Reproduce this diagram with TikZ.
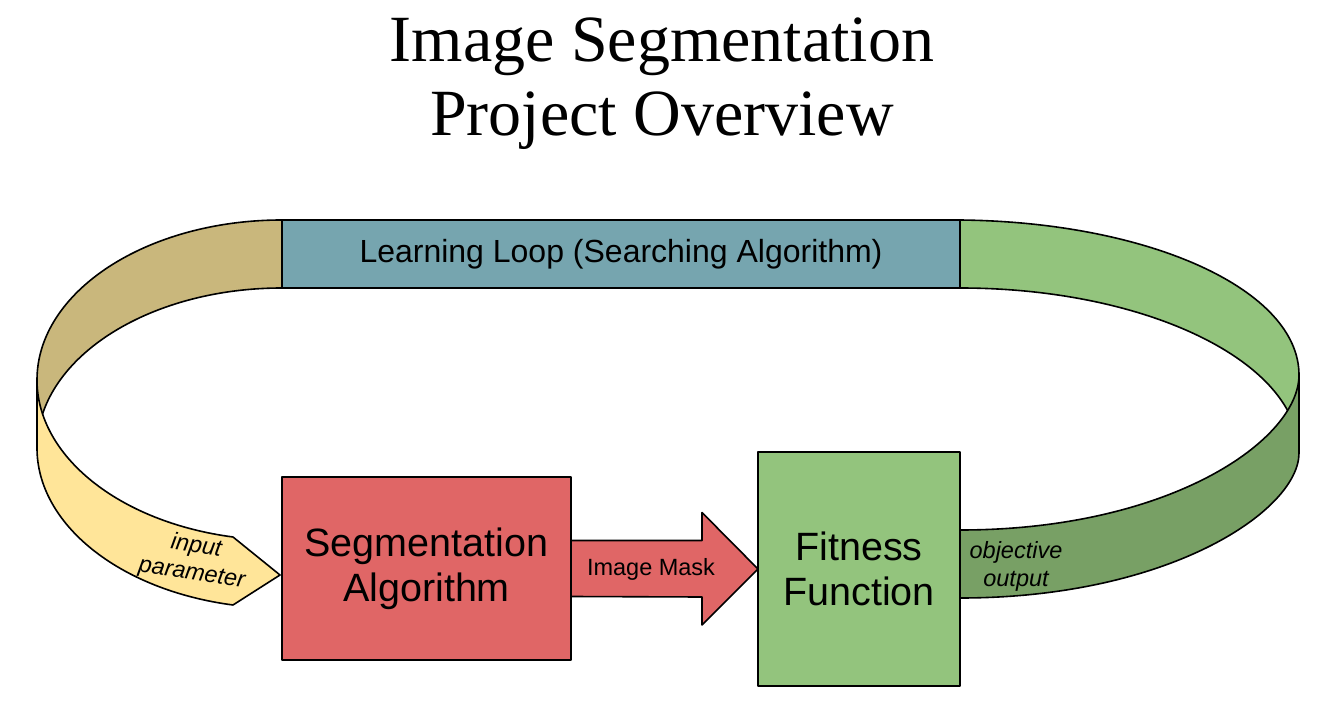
\documentclass[tikz,border=0pt]{standalone}
\usepackage{fontspec}
\setmainfont{Liberation Serif}
\setsansfont{Liberation Sans}
\usetikzlibrary{calc}

\definecolor{loopblue}{HTML}{76A5AF}
\definecolor{backtan}{HTML}{C9B77C}
\definecolor{frontyellow}{HTML}{FFE599}
\definecolor{backgreen}{HTML}{93C47D}
\definecolor{frontgreen}{HTML}{78A065}
\definecolor{segred}{HTML}{E06666}

\begin{document}
\begin{tikzpicture}[x=1pt,y=1pt]
    \useasboundingbox (0,0) rectangle (1324,721);
    \begin{scope}[line width=1.6pt,line join=round,font=\sffamily,
        band/.style={draw=black,fill=#1},
        block/.style={draw=black,fill=#1,inner sep=0pt,outer sep=0pt,align=center,
            font=\sffamily\fontsize{39.5}{45}\selectfont},
        small/.style={align=center,font=\sffamily\itshape\fontsize{23.5}{28}\selectfont}]
    % Title:
    \node [anchor=base,font=\rmfamily\fontsize{66}{74}\selectfont] (title1) at (662,659) {Image Segmentation};
    \node [anchor=base,font=\rmfamily\fontsize{66}{74}\selectfont] (title2) at (662,585) {Project Overview};

    % Back of the loop (the inside we look at):
    \draw [band=backtan] (282,501) .. controls (146.7,501) and (37,429.4) .. (37,341)
        -- (37,273) .. controls (37,361.4) and (146.7,433) .. (282,433) -- cycle;
    \draw [band=backgreen] (960,501) .. controls (1150,499) and (1299,431) .. (1299,346)
        -- (1299,268) .. controls (1299,359) and (1147,433) .. (960,433) -- cycle;

    % Front of the loop:
    \draw [band=frontyellow] (37,341) .. controls (37,265) and (119,199) .. (233,184)
        -- (280,146) -- (233,116) .. controls (119,131) and (37,197) .. (37,273) -- cycle;
    \draw [band=frontgreen] (1299,346) .. controls (1299,281) and (1170,191) .. (960,191)
        -- (960,123) .. controls (1170,123) and (1299,211) .. (1299,268) -- cycle;

    % Top of the loop:
    \node [band=loopblue,minimum width=678pt,minimum height=68pt,inner sep=0pt,outer sep=0pt,
        anchor=south west,font=\sffamily\fontsize{32}{38}\selectfont] (loop) at (282,433)
        {Learning Loop (Searching Algorithm)};

    % Blocks:
    \node [block=segred,minimum width=289pt,minimum height=183pt] (seg) at (426.5,152.5) {Segmentation\\Algorithm};
    \node [block=backgreen,minimum width=202pt,minimum height=234pt] (fit) at (859,152) {Fitness\\Function};

    % Block arrow between them:
    \draw [band=segred] ([yshift=28pt]seg.east) -- ++(131,0) -- ++(0,28) -- (fit.west)
        -- ++(-56,-56) -- ++(0,28) -- ([yshift=-28pt]seg.east) -- cycle;
    \node [font=\sffamily\fontsize{23.5}{28}\selectfont] (mask) at (651,152) {Image Mask};

    % Labels on the loop:
    \node [small,rotate=-9] (inparam) at (194,161) {input\\parameter};
    \node [small] (objout) at (1016,155) {objective\\output};
    \end{scope}
\end{tikzpicture}
\end{document}
